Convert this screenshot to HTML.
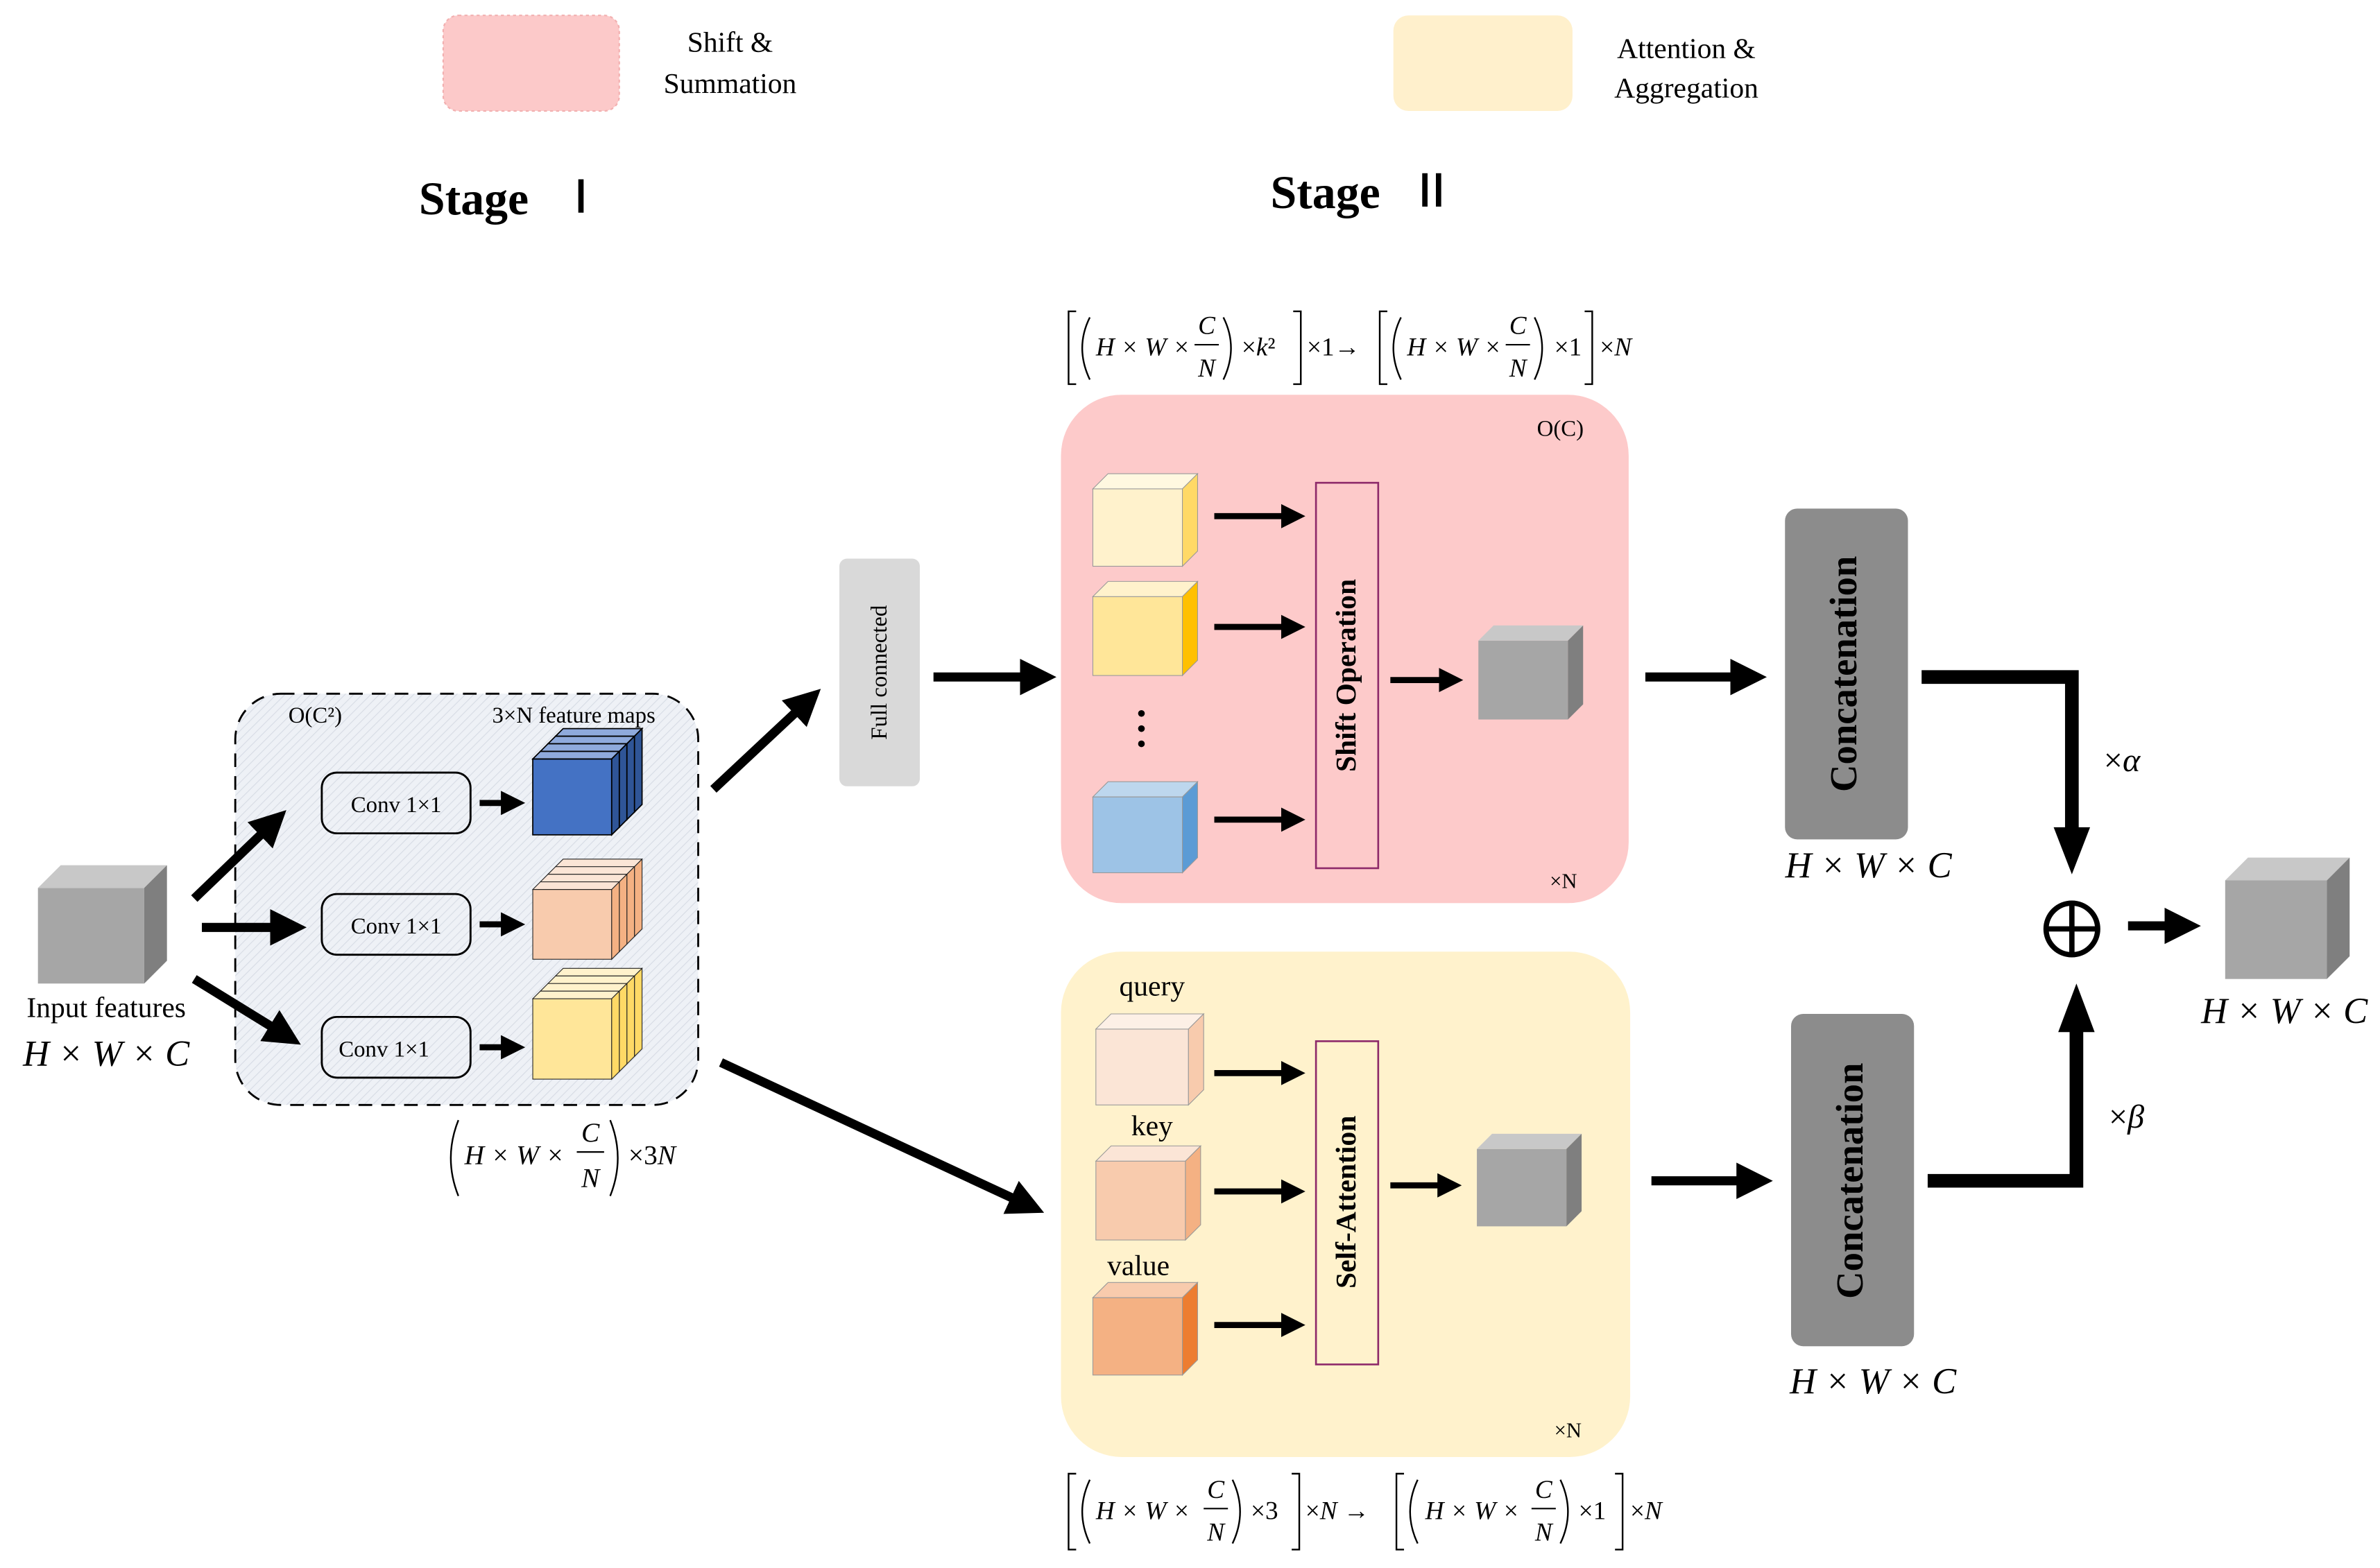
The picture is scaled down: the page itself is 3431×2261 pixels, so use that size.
<!DOCTYPE html>
<html><head><meta charset="utf-8"><style>
html,body{margin:0;padding:0;background:#fff;}
svg{display:block;}
text{font-family:"Liberation Serif",serif;}
.it{font-style:italic;}
.br{fill:none;stroke:#000;stroke-width:1.1;}
</style></head><body>
<svg width="3431" height="2261" viewBox="0 0 1568 1033" xmlns="http://www.w3.org/2000/svg">
<defs>
<pattern id="hatch" width="4" height="4" patternUnits="userSpaceOnUse" patternTransform="rotate(45)">
<rect width="4" height="4" fill="#eef1f6"/><line x1="0" y1="0" x2="0" y2="4" stroke="#d6dbe4" stroke-width="1"/></pattern>
<marker id="ah" markerWidth="4" markerHeight="4" refX="2" refY="2" orient="auto" markerUnits="strokeWidth"><path d="M0,0 L4,2 L0,4 z" fill="#000"/></marker>
<g id="lb"><rect x="0" y="0" width="52" height="50" fill="#4472c4" stroke="#000" stroke-width="0.8"/><polygon points="0,0 5,-5 57,-5 52,0" fill="#8faadc" stroke="#000" stroke-width="0.8"/><polygon points="52,0 57,-5 57,45 52,50" fill="#2f5597" stroke="#000" stroke-width="0.8"/></g>
<g id="lp"><rect x="0" y="0" width="52" height="46" fill="#f8cbad" stroke="#222" stroke-width="0.5"/><polygon points="0,0 5,-5 57,-5 52,0" fill="#fbe5d6" stroke="#222" stroke-width="0.5"/><polygon points="52,0 57,-5 57,41 52,46" fill="#f4b183" stroke="#222" stroke-width="0.5"/></g>
<g id="ly"><rect x="0" y="0" width="52" height="53" fill="#ffe699" stroke="#222" stroke-width="0.5"/><polygon points="0,0 5,-5 57,-5 52,0" fill="#fff2cc" stroke="#222" stroke-width="0.5"/><polygon points="52,0 57,-5 57,48 52,53" fill="#ffd966" stroke="#222" stroke-width="0.5"/></g>
</defs>

<!-- legend -->
<rect x="292" y="10" width="116" height="63" rx="10" fill="#fcc9c9" stroke="#f2b0b0" stroke-dasharray="2,2"/>
<text x="481" y="34" font-size="19" text-anchor="middle">Shift &amp;</text>
<text x="481" y="61" font-size="19" text-anchor="middle">Summation</text>
<rect x="918" y="10" width="118" height="63" rx="10" fill="#fff0cc"/>
<text x="1111" y="38" font-size="19" text-anchor="middle">Attention &amp;</text>
<text x="1111" y="64" font-size="19" text-anchor="middle">Aggregation</text>

<text x="276" y="141" font-size="31" font-weight="bold">Stage</text>
<rect x="381" y="118" width="3.5" height="22" fill="#000"/>
<text x="837" y="137" font-size="31" font-weight="bold">Stage</text>
<rect x="937" y="114" width="3.5" height="22" fill="#000"/>
<rect x="946" y="114" width="3.5" height="22" fill="#000"/>

<!-- input cube -->
<rect x="25" y="585" width="70" height="63" fill="#a6a6a6"/>
<polygon points="25,585 40,570 110,570 95,585" fill="#c8c8c8"/>
<polygon points="95,585 110,570 110,633 95,648" fill="#7f7f7f"/>
<text x="70" y="670" font-size="19" text-anchor="middle">Input features</text>
<text x="70" y="702" font-size="24" class="it" text-anchor="middle">H × W × C</text>

<!-- dashed box -->
<rect x="155" y="457" width="305" height="271" rx="30" fill="url(#hatch)" stroke="#000" stroke-width="1.3" stroke-dasharray="9,6"/>
<text x="190" y="476" font-size="15">O(C²)</text>
<text x="378" y="476" font-size="15" text-anchor="middle">3×N feature maps</text>

<g fill="none" stroke="#000" stroke-width="1.3">
<rect x="212" y="509" width="98" height="40" rx="10"/>
<rect x="212" y="589" width="98" height="40" rx="10"/>
<rect x="212" y="670" width="98" height="40" rx="10"/>
</g>
<text x="261" y="535" font-size="15" text-anchor="middle">Conv 1×1</text>
<text x="261" y="615" font-size="15" text-anchor="middle">Conv 1×1</text>
<text x="253" y="696" font-size="15" text-anchor="middle">Conv 1×1</text>

<g stroke="#000" stroke-width="4" marker-end="url(#ah)">
<line x1="316" y1="529" x2="338" y2="529"/>
<line x1="316" y1="609" x2="338" y2="609"/>
<line x1="316" y1="690" x2="338" y2="690"/>
</g>

<use href="#lb" x="366" y="485"/><use href="#lb" x="361" y="490"/><use href="#lb" x="356" y="495"/><use href="#lb" x="351" y="500"/>
<use href="#lp" x="366" y="571"/><use href="#lp" x="361" y="576"/><use href="#lp" x="356" y="581"/><use href="#lp" x="351" y="586"/>
<use href="#ly" x="366" y="643"/><use href="#ly" x="361" y="648"/><use href="#ly" x="356" y="653"/><use href="#ly" x="351" y="658"/>

<!-- middle formula -->
<path class="br" d="M302,738 Q292,763 302,788"/>
<text x="306" y="767" font-size="18" class="it">H × W ×</text>
<text x="389" y="752" font-size="18" class="it" text-anchor="middle">C</text>
<line x1="380" y1="759" x2="398" y2="759" stroke="#000" stroke-width="1"/>
<text x="389" y="782" font-size="18" class="it" text-anchor="middle">N</text>
<path class="br" d="M402,738 Q412,763 402,788"/>
<text x="414" y="767" font-size="18">×3<tspan class="it">N</tspan></text>

<!-- regions -->
<rect x="699" y="260" width="374" height="335" rx="40" fill="#fdcaca"/>
<rect x="699" y="627" width="375" height="333" rx="40" fill="#fff2cc"/>

<!-- full connected -->
<rect x="553" y="368" width="53" height="150" rx="5" fill="#d9d9d9"/>
<text transform="translate(584,443) rotate(-90)" font-size="15" text-anchor="middle">Full connected</text>

<!-- big arrows -->
<g stroke="#000" stroke-width="6" marker-end="url(#ah)">
<line x1="128" y1="592" x2="180" y2="542"/>
<line x1="133" y1="611" x2="190" y2="611"/>
<line x1="128" y1="645" x2="188" y2="682"/>
<line x1="470" y1="520" x2="532" y2="462"/>
<line x1="615" y1="446" x2="684" y2="446"/>
<line x1="475" y1="700" x2="677" y2="794"/>
<line x1="1084" y1="446" x2="1152" y2="446"/>
<line x1="1088" y1="778" x2="1156" y2="778"/>
<line x1="1402" y1="610" x2="1438" y2="610"/>
</g>
<g stroke="#000" stroke-width="4" marker-end="url(#ah)">
<line x1="800" y1="340" x2="852" y2="340"/>
<line x1="800" y1="413" x2="852" y2="413"/>
<line x1="800" y1="540" x2="852" y2="540"/>
<line x1="916" y1="448" x2="956" y2="448"/>
<line x1="800" y1="707" x2="852" y2="707"/>
<line x1="800" y1="785" x2="852" y2="785"/>
<line x1="800" y1="873" x2="852" y2="873"/>
<line x1="916" y1="781" x2="955" y2="781"/>
</g>

<text x="1028" y="287" font-size="15" text-anchor="middle">O(C)</text>
<text x="1030" y="585" font-size="14" text-anchor="middle">×N</text>

<rect x="720" y="322" width="59" height="51" fill="#fff2cc" stroke="#999" stroke-width="0.5"/>
<polygon points="720,322 730,312 789,312 779,322" fill="#fff8e0" stroke="#999" stroke-width="0.5"/>
<polygon points="779,322 789,312 789,363 779,373" fill="#ffd966" stroke="#999" stroke-width="0.5"/>
<rect x="720" y="393" width="59" height="52" fill="#ffe699" stroke="#999" stroke-width="0.5"/>
<polygon points="720,393 730,383 789,383 779,393" fill="#fff2cc" stroke="#999" stroke-width="0.5"/>
<polygon points="779,393 789,383 789,435 779,445" fill="#ffc000" stroke="#999" stroke-width="0.5"/>
<circle cx="752" cy="470" r="2.2"/><circle cx="752" cy="480" r="2.2"/><circle cx="752" cy="490" r="2.2"/>
<rect x="720" y="525" width="59" height="50" fill="#9dc3e6" stroke="#999" stroke-width="0.5"/>
<polygon points="720,525 730,515 789,515 779,525" fill="#bdd7ee" stroke="#999" stroke-width="0.5"/>
<polygon points="779,525 789,515 789,565 779,575" fill="#5b9bd5" stroke="#999" stroke-width="0.5"/>

<rect x="867" y="318" width="41" height="254" fill="#fdcaca" stroke="#8e2a6a" stroke-width="1.2"/>
<text transform="translate(893,445) rotate(-90)" font-size="19" font-weight="bold" text-anchor="middle">Shift Operation</text>

<rect x="974" y="422" width="59" height="52" fill="#a6a6a6"/>
<polygon points="974,422 984,412 1043,412 1033,422" fill="#c8c8c8"/>
<polygon points="1033,422 1043,412 1043,464 1033,474" fill="#7f7f7f"/>

<text x="1033" y="947" font-size="14" text-anchor="middle">×N</text>
<text x="759" y="656" font-size="19" text-anchor="middle">query</text>
<text x="759" y="748" font-size="19" text-anchor="middle">key</text>
<text x="750" y="840" font-size="19" text-anchor="middle">value</text>

<rect x="722" y="678" width="61" height="50" fill="#fbe5d6" stroke="#999" stroke-width="0.5"/>
<polygon points="722,678 732,668 793,668 783,678" fill="#fdf0e6" stroke="#999" stroke-width="0.5"/>
<polygon points="783,678 793,668 793,718 783,728" fill="#f8cbad" stroke="#999" stroke-width="0.5"/>
<rect x="722" y="765" width="59" height="52" fill="#f8cbad" stroke="#999" stroke-width="0.5"/>
<polygon points="722,765 732,755 791,755 781,765" fill="#fbe5d6" stroke="#999" stroke-width="0.5"/>
<polygon points="781,765 791,755 791,807 781,817" fill="#f4b183" stroke="#999" stroke-width="0.5"/>
<rect x="720" y="855" width="59" height="51" fill="#f4b183" stroke="#999" stroke-width="0.5"/>
<polygon points="720,855 730,845 789,845 779,855" fill="#f8cbad" stroke="#999" stroke-width="0.5"/>
<polygon points="779,855 789,845 789,896 779,906" fill="#ed7d31" stroke="#999" stroke-width="0.5"/>

<rect x="867" y="686" width="41" height="213" fill="#fff2cc" stroke="#8e2a6a" stroke-width="1.2"/>
<text transform="translate(893,792) rotate(-90)" font-size="19" font-weight="bold" text-anchor="middle">Self-Attention</text>

<rect x="973" y="757" width="59" height="51" fill="#a6a6a6"/>
<polygon points="973,757 983,747 1042,747 1032,757" fill="#c8c8c8"/>
<polygon points="1032,757 1042,747 1042,798 1032,808" fill="#7f7f7f"/>

<!-- concatenation -->
<rect x="1176" y="335" width="81" height="218" rx="8" fill="#8c8c8c"/>
<text transform="translate(1223,444) rotate(-90)" font-size="25" font-weight="bold" text-anchor="middle">Concatenation</text>
<text x="1231" y="578" font-size="24" class="it" text-anchor="middle">H × W × C</text>
<rect x="1180" y="668" width="81" height="219" rx="8" fill="#8c8c8c"/>
<text transform="translate(1227,778) rotate(-90)" font-size="25" font-weight="bold" text-anchor="middle">Concatenation</text>
<text x="1234" y="918" font-size="24" class="it" text-anchor="middle">H × W × C</text>

<path d="M1266,446 H1365 V560" fill="none" stroke="#000" stroke-width="9"/>
<polygon points="1353,545 1377,545 1365,576" fill="#000"/>
<path d="M1270,778 H1368 V665" fill="none" stroke="#000" stroke-width="9"/>
<polygon points="1356,680 1380,680 1368,648" fill="#000"/>
<text x="1398" y="508" font-size="22" text-anchor="middle">×<tspan class="it">α</tspan></text>
<text x="1401" y="743" font-size="22" text-anchor="middle">×<tspan class="it">β</tspan></text>

<circle cx="1365" cy="612" r="17" fill="none" stroke="#000" stroke-width="3.5"/>
<line x1="1348" y1="612" x2="1382" y2="612" stroke="#000" stroke-width="3.5"/>
<line x1="1365" y1="595" x2="1365" y2="629" stroke="#000" stroke-width="3.5"/>

<rect x="1466" y="580" width="67" height="65" fill="#a6a6a6"/>
<polygon points="1466,580 1481,565 1548,565 1533,580" fill="#c8c8c8"/>
<polygon points="1533,580 1548,565 1548,630 1533,645" fill="#7f7f7f"/>
<text x="1505" y="674" font-size="24" class="it" text-anchor="middle">H × W × C</text>

<!-- top formula -->
<g font-size="17">
<path class="br" d="M709,205 H704 V253 H709"/>
<path class="br" d="M718,209 Q708,229 718,250"/>
<text x="722" y="234" class="it">H × W ×</text>
<text x="795" y="220" class="it" text-anchor="middle">C</text>
<line x1="787" y1="227" x2="803" y2="227" stroke="#000"/>
<text x="795" y="248" class="it" text-anchor="middle">N</text>
<path class="br" d="M806,209 Q816,229 806,250"/>
<text x="818" y="234">×<tspan class="it">k</tspan>²</text>
<path class="br" d="M852,205 H857 V253 H852"/>
<text x="861" y="234">×1→</text>
<path class="br" d="M914,205 H909 V253 H914"/>
<path class="br" d="M923,209 Q913,229 923,250"/>
<text x="927" y="234" class="it">H × W ×</text>
<text x="1000" y="220" class="it" text-anchor="middle">C</text>
<line x1="992" y1="227" x2="1008" y2="227" stroke="#000"/>
<text x="1000" y="248" class="it" text-anchor="middle">N</text>
<path class="br" d="M1011,209 Q1021,229 1011,250"/>
<text x="1024" y="234">×1</text>
<path class="br" d="M1044,205 H1049 V253 H1044"/>
<text x="1054" y="234">×<tspan class="it">N</tspan></text>
</g>

<!-- bottom formula -->
<g font-size="17">
<path class="br" d="M709,971 H704 V1021 H709"/>
<path class="br" d="M718,975 Q708,996 718,1017"/>
<text x="722" y="1001" class="it">H × W ×</text>
<text x="801" y="987" class="it" text-anchor="middle">C</text>
<line x1="793" y1="994" x2="809" y2="994" stroke="#000"/>
<text x="801" y="1015" class="it" text-anchor="middle">N</text>
<path class="br" d="M812,975 Q822,996 812,1017"/>
<text x="824" y="1001">×3</text>
<path class="br" d="M851,971 H856 V1021 H851"/>
<text x="860" y="1001">×<tspan class="it">N</tspan> →</text>
<path class="br" d="M925,971 H920 V1021 H925"/>
<path class="br" d="M934,975 Q924,996 934,1017"/>
<text x="939" y="1001" class="it">H × W ×</text>
<text x="1017" y="987" class="it" text-anchor="middle">C</text>
<line x1="1009" y1="994" x2="1025" y2="994" stroke="#000"/>
<text x="1017" y="1015" class="it" text-anchor="middle">N</text>
<path class="br" d="M1028,975 Q1038,996 1028,1017"/>
<text x="1040" y="1001">×1</text>
<path class="br" d="M1064,971 H1069 V1021 H1064"/>
<text x="1074" y="1001">×<tspan class="it">N</tspan></text>
</g>
</svg>
</body></html>
